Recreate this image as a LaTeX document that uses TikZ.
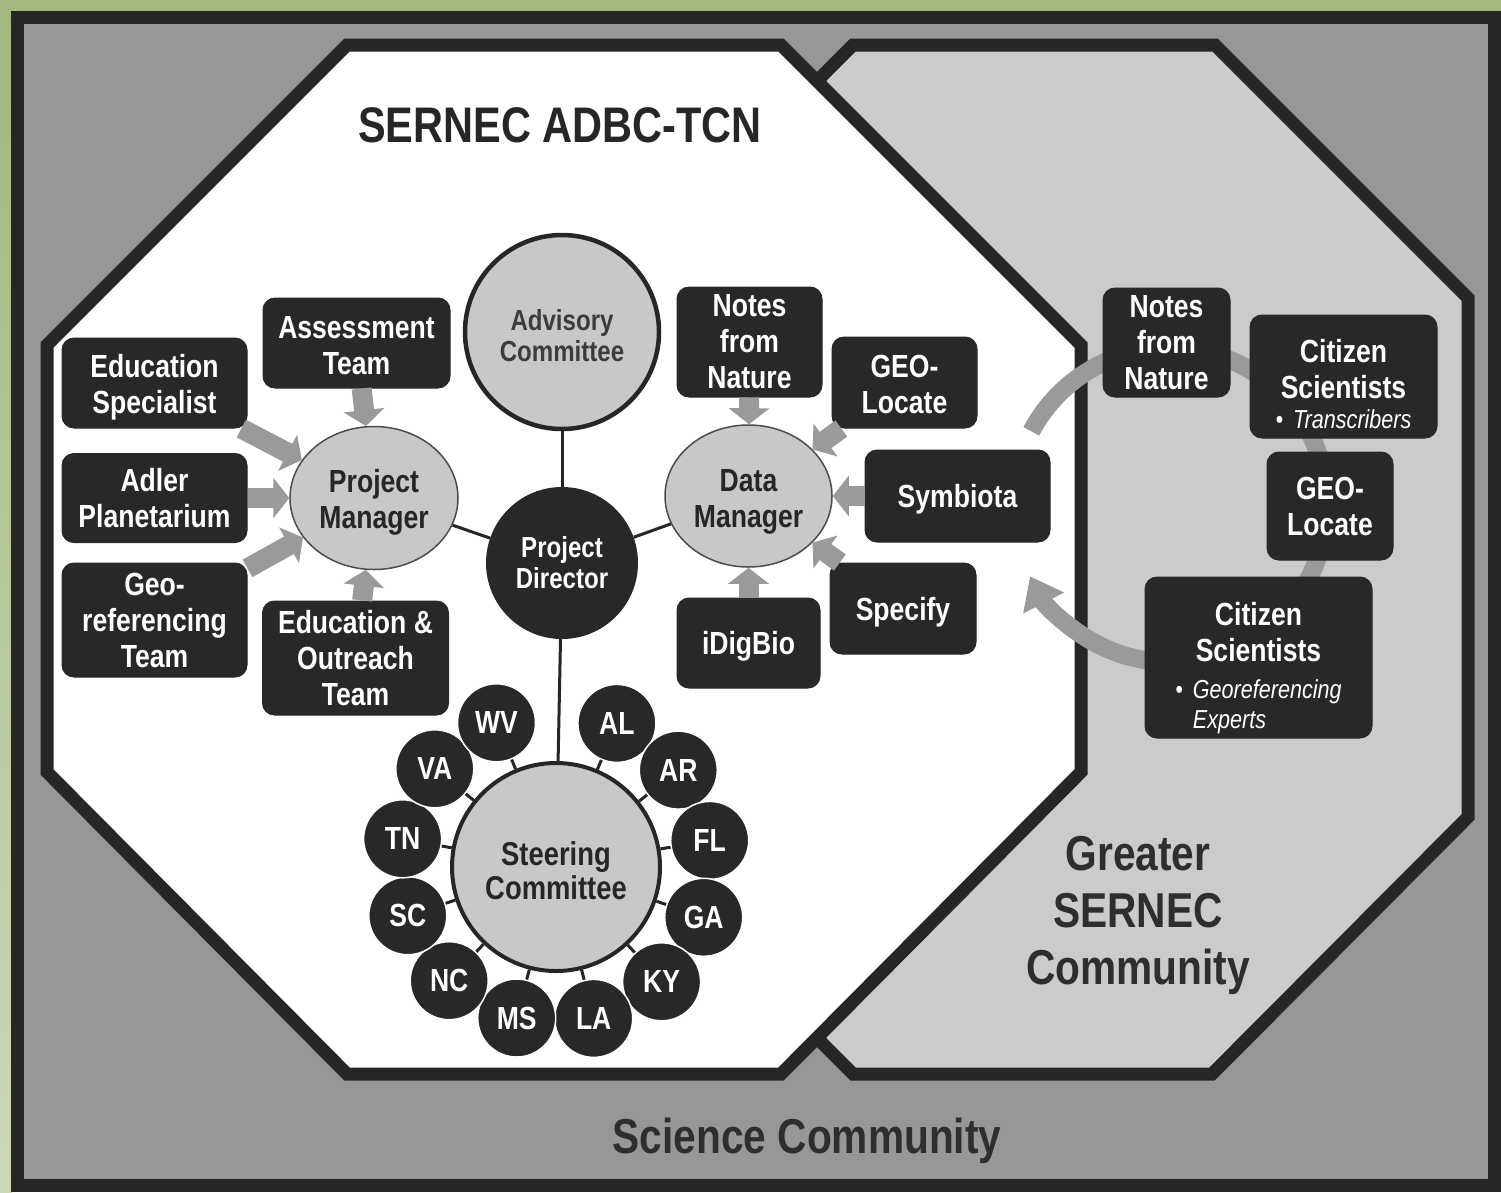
\documentclass[tikz,border=0pt]{standalone}
\usepackage{fontspec}
\setmainfont{Liberation Sans}[FakeStretch=0.83]
\usetikzlibrary{shapes.geometric,arrows.meta}
\definecolor{frameg}{HTML}{A3B77F}
\definecolor{framel}{HTML}{CBD7B9}
\definecolor{dk}{HTML}{262626}
\definecolor{boxc}{HTML}{282828}
\definecolor{lg}{HTML}{C8C8C8}
\definecolor{arrg}{HTML}{9A9A9A}
\definecolor{midg}{HTML}{979797}
\definecolor{lightg}{HTML}{CBCBCB}
\definecolor{txt}{HTML}{2E2E2E}
\definecolor{advt}{HTML}{3C3C3C}
\newcommand\bxfont{\bfseries\fontsize{32}{36}\selectfont}
\newcommand\lift[1]{\rule{0pt}{#1}}
\tikzset{
  box/.style={rectangle, rounded corners=12pt, fill=boxc, draw=boxc, line width=1pt,
    text=white, font=\bxfont, align=center, inner sep=0pt},
  oneline/.style={text height=23pt, text depth=0pt},
  blk/.style={draw=arrg, line width=20pt, -{Triangle[length=16pt,width=40pt]}},
  conn/.style={draw=dk, line width=3pt},
  statec/.style={circle, fill=boxc, draw=white, line width=1.5pt, text=white, font=\bxfont,
    minimum size=78pt, inner sep=0pt},
  oval/.style={ellipse, fill=lg, draw=black!70, line width=1.5pt, text=dk, align=center,
    inner sep=0pt, font=\bfseries\fontsize{32}{36}\selectfont},
  zone/.style={line width=13pt, draw=dk, line join=miter}
}
\begin{document}
\begin{tikzpicture}[x=1pt,y=-1pt]
\useasboundingbox (0,0) rectangle (1501,1192);
% frame
\fill[frameg] (0,0) rectangle (1501,1192);
\shade[top color=frameg, bottom color=framel] (0,12) rectangle (12,1192);
\draw[zone, fill=midg] (17.5,17) rectangle (1494.5,1185.5);
% greater community shape
\draw[zone, fill=lightg] (820,78) -- (853,45) -- (1215,45) -- (1468,298) -- (1468,817)
  -- (1212,1074) -- (853,1074) -- (820,1041) -- cycle;
% SERNEC octagon
\draw[zone, fill=white] (47,345) -- (347,45) -- (781,45) -- (1081,345) -- (1081,772)
  -- (781,1074) -- (347,1074) -- (47,772) -- cycle;
% titles
\node[font=\bfseries\fontsize{50}{60}\selectfont, text=dk] (title) at (560,125) {SERNEC ADBC-TCN};
\node[font=\bfseries\fontsize{49}{57}\selectfont, text=txt, align=center] (greater) at (1138,915)
  {Greater\\SERNEC\\Community};
\node[font=\bfseries\fontsize{49}{57}\selectfont, text=txt, anchor=base] (science) at (807,1153)
  {Science Community};
% cycle arrow in greater community
\coordinate (arcs) at (1031.3,431.3);
\draw[draw=arrg, line width=18pt, -{Triangle[length=30pt,width=44pt]}]
  (arcs) arc[start angle=-152, end angle=153, radius=157];
% central circles
\node[circle, fill=lg, draw=dk, line width=4.5pt, minimum size=194pt, inner sep=0pt,
  text=advt, align=center, font=\bfseries\fontsize{29}{31}\selectfont] (adv) at (562,332)
  {\lift{29pt}Advisory\\Committee};
\node[circle, fill=boxc, minimum size=152pt, inner sep=0pt, text=white, align=center,
  font=\bfseries\fontsize{29}{31}\selectfont] (pd) at (562,563) {Project\\Director};
\node[oval, minimum width=168pt, minimum height=143pt] (pm) at (374,498) {\lift{32pt}Project\\Manager};
\node[oval, minimum width=167pt, minimum height=142pt] (dm) at (748.5,496) {\lift{33pt}Data\\Manager};
\node[circle, fill=lg, draw=dk, line width=4pt, minimum size=208pt, inner sep=0pt,
  text=dk, align=center, font=\bfseries\fontsize{33}{34}\selectfont] (steer) at (556,867)
  {\lift{32pt}Steering\\Committee};
\draw[conn] (adv) -- (pd);
\draw[conn] (pd) -- (pm);
\draw[conn] (pd) -- (dm);
\draw[conn] (pd) -- (steer);
% left boxes
\node[box, minimum width=185pt, minimum height=90pt] (edspec) at (154.5,383) {\lift{31pt}Education\\Specialist};
\node[box, minimum width=185pt, minimum height=89pt] (adler) at (154.5,498) {Adler\\Planetarium};
\node[box, minimum width=185pt, minimum height=114pt] (georef) at (154.5,620) {Geo-\\referencing\\Team};
\node[box, minimum width=187pt, minimum height=90pt] (assess) at (356.5,343) {\lift{27pt}Assessment\\Team};
\node[box, minimum width=186pt, minimum height=114pt] (eduout) at (355.5,658) {Education \&\\Outreach\\Team};
\draw[blk] (edspec) -- (pm);
\draw[blk] (adler) -- (pm);
\draw[blk] (georef) -- (pm);
\draw[blk] (assess) -- (pm);
\draw[blk] (eduout) -- (pm);
% right boxes
\node[box, minimum width=145pt, minimum height=110pt] (notesl) at (749.5,342) {Notes\\from\\Nature};
\node[box, minimum width=145pt, minimum height=91pt] (geol) at (904.5,382.5) {\lift{27pt}GEO-\\Locate};
\node[box, oneline, minimum width=185pt, minimum height=92pt] (symb) at (957.5,496) {Symbiota};
\node[box, oneline, minimum width=146pt, minimum height=91pt] (spec) at (903,608.5) {Specify};
\node[box, oneline, minimum width=143pt, minimum height=90pt] (idig) at (748.5,643) {iDigBio};
\draw[blk] (notesl) -- (dm);
\draw[blk] (geol) -- (dm);
\draw[blk] (symb) -- (dm);
\draw[blk] (spec) -- (dm);
\draw[blk] (idig) -- (dm);
% greater community boxes
\node[box, minimum width=127pt, minimum height=109pt] (notesr) at (1166.5,342.5) {Notes\\from\\Nature};
\node[box, minimum width=187pt, minimum height=123pt] (citt) at (1343.5,376.5)
  {\lift{39pt}Citizen\\Scientists\\[-6pt]{\mdseries\itshape\fontsize{26}{30}\selectfont\textbullet\hspace{10pt}Transcribers}};
\node[box, minimum width=126pt, minimum height=108pt] (geor) at (1330,506) {GEO-\\Locate};
\node[box, minimum width=227pt, minimum height=161pt] (citg) at (1258.5,657.5)
  {\lift{48pt}Citizen\\Scientists\\[14pt]{\mdseries\itshape\fontsize{26}{30}\selectfont
  \begin{tabular}{@{}r@{\hspace{10pt}}l@{}}\textbullet&Georeferencing\\&Experts\end{tabular}\hspace{12pt}}};
% states
\node[statec] (al) at (616.9,723.4) {AL};
\node[statec] (ar) at (678.3,770.1) {AR};
\node[statec] (fl) at (709.7,840.4) {FL};
\node[statec] (ga) at (703.7,917.3) {GA};
\node[statec] (ky) at (661.6,981.8) {KY};
\node[statec] (la) at (593.7,1018.4) {LA};
\node[statec] (ms) at (516.7,1018.0) {MS};
\node[statec] (nc) at (449.2,980.7) {NC};
\node[statec] (sc) at (407.8,915.7) {SC};
\node[statec] (tn) at (402.6,838.8) {TN};
\node[statec] (va) at (434.8,768.8) {VA};
\node[statec] (wv) at (496.5,722.8) {WV};
\foreach \s in {al,ar,fl,ga,ky,la,ms,nc,sc,tn,va,wv}
  \draw[conn] (steer) -- (\s);
\end{tikzpicture}
\end{document}
